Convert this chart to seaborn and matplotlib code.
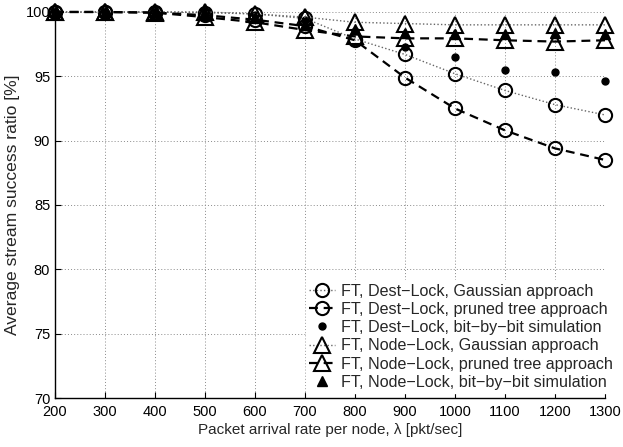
import numpy as np
import pandas as pd
import matplotlib
matplotlib.use("Agg")
import matplotlib.pyplot as plt
import seaborn as sns

rate = [200, 300, 400, 500, 600, 700, 800, 900, 1000, 1100, 1200, 1300]
dest_gauss = [100, 100, 100, 99.95, 99.85, 99.5, 97.9, 96.7, 95.2, 93.9, 92.8, 92.0]
dest_pruned = [100, 100, 99.95, 99.75, 99.4, 98.9, 97.8, 94.9, 92.5, 90.8, 89.4, 88.5]
dest_sim = [100, 100, 100, 99.9, 99.8, 99.4, 98.5, 97.3, 96.5, 95.5, 95.3, 94.6]
node_gauss = [100, 100, 100, 100, 99.85, 99.6, 99.2, 99.1, 99.0, 99.0, 99.0, 99.0]
node_pruned = [100, 100, 99.95, 99.6, 99.2, 98.6, 98.1, 97.95, 97.95, 97.8, 97.7, 97.8]
node_sim = [100, 100, 100, 99.8, 99.5, 99.0, 98.7, 98.4, 98.3, 98.3, 98.4, 98.3]

labels = [
    "FT, Dest\u2212Lock, Gaussian approach",
    "FT, Dest\u2212Lock, pruned tree approach",
    "FT, Dest\u2212Lock, bit\u2212by\u2212bit simulation",
    "FT, Node\u2212Lock, Gaussian approach",
    "FT, Node\u2212Lock, pruned tree approach",
    "FT, Node\u2212Lock, bit\u2212by\u2212bit simulation",
]
series = [dest_gauss, dest_pruned, dest_sim, node_gauss, node_pruned, node_sim]

sns.set_style("white")
plt.rcParams["font.family"] = ["Liberation Sans", "DejaVu Sans"]

fig = plt.figure(figsize=(6.23, 4.47), dpi=100)
ax = fig.add_axes([0.0883, 0.1096, 0.8828, 0.8636])

dot = (0, (1, 1.6))
dash = (0, (4, 2.6))
styles = [
    dict(ls=dot, lw=1.0, color="#666666", marker="o", ms=9.5, mfc="none", mec="black", mew=1.5),
    dict(ls=dash, lw=1.6, color="black", marker="o", ms=9.5, mfc="none", mec="black", mew=1.5),
    dict(ls="none", lw=0, color="black", marker="o", ms=5.0, mfc="black", mec="black", mew=1),
    dict(ls=dot, lw=1.0, color="#666666", marker="^", ms=11, mfc="none", mec="black", mew=1.5),
    dict(ls=dash, lw=1.6, color="black", marker="^", ms=11, mfc="none", mec="black", mew=1.5),
    dict(ls="none", lw=0, color="black", marker="^", ms=7, mfc="black", mec="black", mew=1),
]

for vals, lab, st in zip(series, labels, styles):
    df = pd.DataFrame({"rate": rate, "ratio": vals})
    sns.lineplot(data=df, x="rate", y="ratio", ax=ax, label=lab,
                 linestyle=st["ls"], linewidth=st["lw"], color=st["color"],
                 marker=st["marker"], markersize=st["ms"],
                 markerfacecolor=st["mfc"], markeredgecolor=st["mec"],
                 markeredgewidth=st["mew"], clip_on=False, zorder=3)

ax.set_xlim(200, 1300)
ax.set_ylim(70, 100)
ax.set_xticks(rate)
ax.set_yticks([70, 75, 80, 85, 90, 95, 100])
ax.grid(True, linestyle=(0, (1, 2.2)), color="#8a8a8a", linewidth=0.7)
for s in ["top", "right"]:
    ax.spines[s].set_visible(False)
for s in ["left", "bottom"]:
    ax.spines[s].set_color("black")
    ax.spines[s].set_linewidth(1.0)
ax.tick_params(direction="in", length=4, width=0.8, labelsize=10.5, colors="black",
               left=True, bottom=True)
ax.tick_params(axis="x", pad=5)
ax.set_xlabel("Packet arrival rate per node, \u03bb [pkt/sec]", fontsize=11, labelpad=3)
ax.set_ylabel("Average stream success ratio [%]", fontsize=12.6, labelpad=4)

handles, labs = ax.get_legend_handles_labels()
leg = ax.legend(handles, labs, loc="lower right",
                bbox_to_anchor=(616 / 623, (447 - 393) / 447),
                bbox_transform=fig.transFigure, frameon=True,
                fontsize=11.6, handlelength=1.6, handletextpad=0.35,
                labelspacing=0.2, borderpad=0.2, borderaxespad=0.0,
                fancybox=False)
leg.get_frame().set_edgecolor("white")
leg.get_frame().set_facecolor("white")
leg.get_frame().set_alpha(1)
leg.set_zorder(5)

fig.savefig("out.png", dpi=100)
